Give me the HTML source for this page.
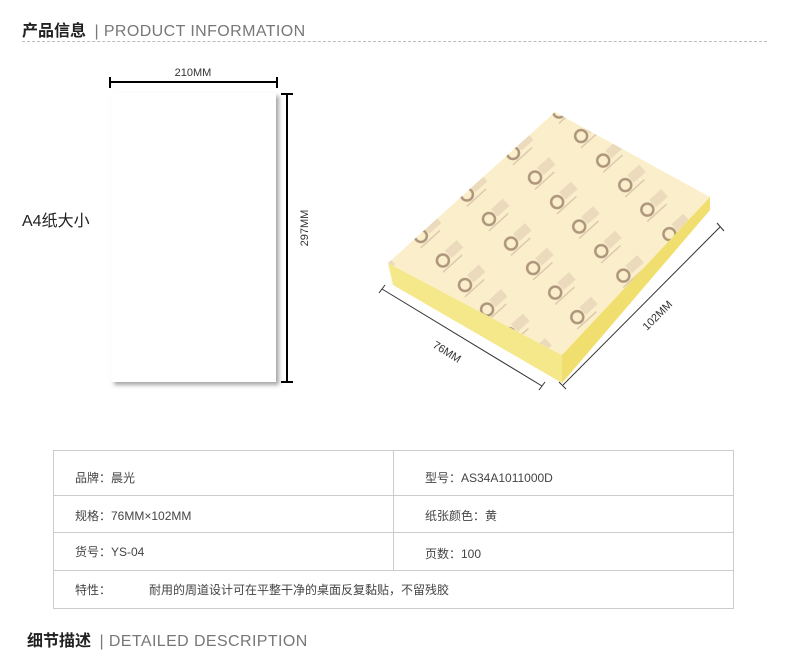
<!DOCTYPE html>
<html><head><meta charset="utf-8"><style>
body{margin:0;background:#fff;width:790px;height:646px;overflow:hidden;position:relative;font-family:"Liberation Sans","Noto Sans CJK SC",sans-serif;}
.a{position:absolute;white-space:nowrap;}
.h{font-size:16px;font-weight:bold;color:#222;}
.h span{font-weight:normal;color:#777;font-size:16px;letter-spacing:0.4px;margin-left:4px;}
.t{font-size:12px;color:#444;}
</style></head><body>
<div class="a h" style="left:22px;top:17px;">产品信息 <span>| PRODUCT INFORMATION</span></div>
<div class="a" style="left:22px;top:41px;width:745px;border-top:1px dashed #bbb;"></div>
<div class="a" style="left:22px;top:207px;font-size:16px;color:#222;">A4纸大小</div>
<div class="a" style="left:111px;top:93px;width:165px;height:289px;background:#fff;box-shadow:3px 3px 4px rgba(0,0,0,0.35);"></div>
<svg class="a" style="left:0;top:0" width="790" height="646">
<g stroke="#000" stroke-width="2">
<line x1="110" y1="82" x2="277" y2="82"/><line x1="110" y1="77" x2="110" y2="88"/><line x1="277" y1="77" x2="277" y2="88"/>
<line x1="287" y1="94" x2="287" y2="382"/><line x1="281" y1="94" x2="293" y2="94"/><line x1="281" y1="382" x2="293" y2="382"/>
</g>
<text x="193" y="76" font-size="11" text-anchor="middle" fill="#333" font-family="Liberation Sans">210MM</text>
<text transform="translate(308,228) rotate(-90)" font-size="11" text-anchor="middle" fill="#333" font-family="Liberation Sans">297MM</text>
<defs>
<clipPath id="c"><polygon points="555,112 710,197 562,355 388,263"/></clipPath>
<pattern id="p" width="62" height="33" patternUnits="userSpaceOnUse" patternTransform="rotate(-42 550 230)">
<circle cx="16" cy="16" r="6" fill="none" stroke="#7a5a48" stroke-width="2.5"/>
<rect x="24" y="10" width="16" height="10" fill="#e0cdb2"/>
<rect x="8" y="24" width="26" height="1.5" fill="#c8b09c"/>
</pattern>
</defs>
<polygon points="388,263 562,355 710,197 710,210 562,383 393,285" fill="#f4e88a"/>
<polygon points="562,355 710,197 710,210 562,383" fill="#f0df6e"/>
<polygon points="555,112 710,197 562,355 388,263" fill="#fbefcb"/>
<rect x="380" y="100" width="340" height="270" fill="url(#p)" clip-path="url(#c)" opacity="0.6"/>
<g stroke="#333" stroke-width="1">
<line x1="382" y1="289" x2="542" y2="386"/><line x1="379" y1="293" x2="385" y2="285"/><line x1="539" y1="390" x2="545" y2="382"/>
<line x1="563" y1="385" x2="720" y2="227"/><line x1="559" y1="382" x2="566" y2="389"/><line x1="717" y1="223" x2="724" y2="231"/>
</g>
<text transform="translate(445,355) rotate(32)" font-size="11" text-anchor="middle" fill="#333" font-family="Liberation Sans">76MM</text>
<text transform="translate(660,318) rotate(-45)" font-size="11" text-anchor="middle" fill="#333" font-family="Liberation Sans">102MM</text>
<g stroke="#ccc" stroke-width="1" fill="none">
<rect x="53.5" y="450.5" width="680" height="158"/>
<line x1="53" y1="495.5" x2="734" y2="495.5"/><line x1="53" y1="532.5" x2="734" y2="532.5"/><line x1="53" y1="570.5" x2="734" y2="570.5"/>
<line x1="393.5" y1="450" x2="393.5" y2="570"/>
</g>
</svg>
<div class="a t" style="left:75px;top:469px;">品牌：晨光</div>
<div class="a t" style="left:425px;top:469px;">型号：AS34A1011000D</div>
<div class="a t" style="left:75px;top:507px;">规格：76MM×102MM</div>
<div class="a t" style="left:425px;top:507px;">纸张颜色：黄</div>
<div class="a t" style="left:75px;top:543px;">货号：YS-04</div>
<div class="a t" style="left:425px;top:545px;">页数：100</div>
<div class="a t" style="left:75px;top:581px;">特性：</div>
<div class="a t" style="left:149px;top:581px;">耐用的周道设计可在平整干净的桌面反复黏贴，不留残胶</div>
<div class="a h" style="left:27px;top:627px;">细节描述 <span>| DETAILED DESCRIPTION</span></div>
</body></html>
